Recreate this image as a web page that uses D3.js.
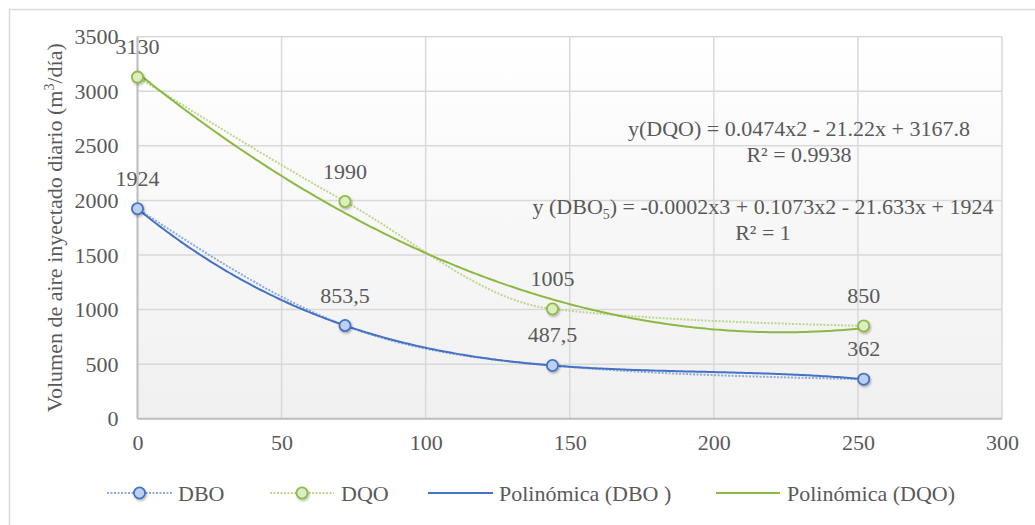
<!DOCTYPE html>
<html><head><meta charset="utf-8">
<script src="https://cdn.jsdelivr.net/npm/d3@7"></script>
<style>
body{margin:0;background:#fff;}
</style></head>
<body><svg id="chart" width="1035" height="525"></svg>
<script>
// ---- data ----
const xValues = [0, 72, 144, 252];
const dboValues = [1924, 853.5, 487.5, 362];
const dqoValues = [3130, 1990, 1005, 850];
const dboLabels = ["1924", "853,5", "487,5", "362"];
const dqoLabels = ["3130", "1990", "1005", "850"];
const xTicks = [0, 50, 100, 150, 200, 250, 300];
const yTicks = [0, 500, 1000, 1500, 2000, 2500, 3000, 3500];
const legendNames = ["DBO", "DQO", "Polinómica (DBO )", "Polinómica (DQO)"];
const eqDQO = "y(DQO) = 0.0474x2 - 21.22x + 3167.8";
const r2DQO = "R² = 0.9938";
const eqDBOparts = ["y (DBO", "5", ") = -0.0002x3 + 0.1073x2 - 21.633x + 1924"];
const r2DBO = "R² = 1";
const yTitle = ["Volumen de aire inyectado diario (m", "3", "/día)"];

// ---- setup ----
const FONT = "Liberation Serif";
const TXT = "#595959";
const svg = d3.select("#chart");
const pLeft = 137.5, pRight = 1002, pTop = 36.7, pBottom = 418.7;
const x = d3.scaleLinear().domain([0, 300]).range([pLeft, pRight]);
const y = d3.scaleLinear().domain([0, 3500]).range([pBottom, pTop]);

const blue = "#4472C4", blueFill = "#BDD0EE", blueDot = "#8EA9DB";
const green = "#8DB843", greenFill = "#DDEDC2", greenDot = "#BFD68F";

// outer chart border
svg.append("rect").attr("x", 9.5).attr("y", 9.5).attr("width", 1040).attr("height", 530)
  .attr("fill", "none").attr("stroke", "#d9d9d9").attr("stroke-width", 1.5);

const defs = svg.append("defs");
const grad = defs.append("linearGradient").attr("id", "bg").attr("x1", 0).attr("y1", 0).attr("x2", 0).attr("y2", 1);
grad.append("stop").attr("offset", "0%").attr("stop-color", "#ffffff");
grad.append("stop").attr("offset", "100%").attr("stop-color", "#f0f0f0");
const sh = defs.append("filter").attr("id", "shadow").attr("x", "-50%").attr("y", "-50%").attr("width", "200%").attr("height", "200%");
sh.append("feDropShadow").attr("dx", 1).attr("dy", 1.5).attr("stdDeviation", 1.2).attr("flood-color", "#000").attr("flood-opacity", 0.3);

svg.append("rect").attr("x", pLeft).attr("y", pTop).attr("width", pRight - pLeft).attr("height", pBottom - pTop).attr("fill", "url(#bg)");

// gridlines
svg.append("g").selectAll("line").data(yTicks).join("line")
  .attr("x1", pLeft).attr("x2", pRight).attr("y1", d => y(d)).attr("y2", d => y(d))
  .attr("stroke", "#d9d9d9").attr("stroke-width", 1.5);
svg.append("g").selectAll("line").data(xTicks).join("line")
  .attr("y1", pTop).attr("y2", pBottom).attr("x1", d => x(d)).attr("x2", d => x(d))
  .attr("stroke", "#d9d9d9").attr("stroke-width", 1.5);
// axis lines
svg.append("line").attr("x1", pLeft).attr("x2", pRight).attr("y1", pBottom).attr("y2", pBottom).attr("stroke", "#bfbfbf").attr("stroke-width", 2);
svg.append("line").attr("x1", pLeft).attr("x2", pLeft).attr("y1", pTop).attr("y2", pBottom).attr("stroke", "#bfbfbf").attr("stroke-width", 2);

// tick labels via axes
const fs = 22;
const xAxis = svg.append("g").attr("transform", `translate(0,${pBottom})`)
  .call(d3.axisBottom(x).tickValues(xTicks).tickFormat(d3.format("d")).tickSize(0).tickPadding(16));
xAxis.select(".domain").remove();
const yAxis = svg.append("g").attr("transform", `translate(${pLeft},0)`)
  .call(d3.axisLeft(y).tickValues(yTicks).tickFormat(d3.format("d")).tickSize(0).tickPadding(19));
yAxis.select(".domain").remove();
svg.selectAll(".tick text").attr("font-size", fs);

// y title
const yt = svg.append("text").attr("transform", `translate(62,${(pTop + pBottom) / 2}) rotate(-90)`)
  .attr("text-anchor", "middle").attr("font-size", fs);
yt.append("tspan").text(yTitle[0]);
yt.append("tspan").text(yTitle[1]).attr("font-size", 14).attr("dy", -8);
yt.append("tspan").text(yTitle[2]).attr("dy", 8);

// ---- least squares polynomial fit ----
function polyfit(xs, ys, deg) {
  const n = deg + 1;
  const A = Array.from({length: n}, () => new Array(n + 1).fill(0));
  for (let r = 0; r < n; r++) {
    for (let c = 0; c < n; c++) A[r][c] = d3.sum(xs, v => Math.pow(v, r + c));
    A[r][n] = d3.sum(xs.map((v, i) => ys[i] * Math.pow(v, r)));
  }
  for (let i = 0; i < n; i++) {
    let p = i;
    for (let k = i + 1; k < n; k++) if (Math.abs(A[k][i]) > Math.abs(A[p][i])) p = k;
    [A[i], A[p]] = [A[p], A[i]];
    for (let k = 0; k < n; k++) {
      if (k === i) continue;
      const f = A[k][i] / A[i][i];
      for (let c = i; c <= n; c++) A[k][c] -= f * A[i][c];
    }
  }
  return A.map((row, i) => row[n] / row[i]);
}
const evalPoly = (co, v) => co.reduce((s, c, i) => s + c * Math.pow(v, i), 0);
const coDBO = polyfit(xValues, dboValues, 3);
const coDQO = polyfit(xValues, dqoValues, 2);
const xs = d3.range(0, xValues[xValues.length - 1] + 0.5, 1);

const lineGen = d3.line().x(d => x(d[0])).y(d => y(d[1]));
const smooth = d3.line().x(d => x(d[0])).y(d => y(d[1])).curve(d3.curveMonotoneX);

// dotted series lines
const dboPts = xValues.map((v, i) => [v, dboValues[i]]);
const dqoPts = xValues.map((v, i) => [v, dqoValues[i]]);
svg.append("path").attr("d", smooth(dqoPts)).attr("fill", "none").attr("stroke", greenDot).attr("stroke-width", 2).attr("stroke-dasharray", "2,1.5");
svg.append("path").attr("d", smooth(dboPts)).attr("fill", "none").attr("stroke", blueDot).attr("stroke-width", 2).attr("stroke-dasharray", "2,1.5");

// trendlines
svg.append("path").attr("d", lineGen(xs.map(v => [v, evalPoly(coDQO, v)]))).attr("fill", "none").attr("stroke", green).attr("stroke-width", 2);
svg.append("path").attr("d", lineGen(xs.map(v => [v, evalPoly(coDBO, v)]))).attr("fill", "none").attr("stroke", blue).attr("stroke-width", 2);

// markers
function markers(pts, stroke, fill) {
  svg.append("g").selectAll("circle").data(pts).join("circle")
    .attr("cx", d => x(d[0])).attr("cy", d => y(d[1])).attr("r", 5.6)
    .attr("fill", fill).attr("stroke", stroke).attr("stroke-width", 1.8).attr("filter", "url(#shadow)");
}
markers(dqoPts, green, greenFill);
markers(dboPts, blue, blueFill);

// data labels
function labels(pts, txt) {
  svg.append("g").selectAll("text").data(pts).join("text")
    .attr("x", d => x(d[0])).attr("y", d => y(d[1]) - 23)
    .attr("text-anchor", "middle").attr("font-size", fs).text((d, i) => txt[i]);
}
labels(dqoPts, dqoLabels);
labels(dboPts, dboLabels);

// equations
svg.append("text").attr("x", 799).attr("y", 136).attr("text-anchor", "middle").attr("font-size", fs).text(eqDQO);
svg.append("text").attr("x", 799).attr("y", 162).attr("text-anchor", "middle").attr("font-size", fs).text(r2DQO);
const e2 = svg.append("text").attr("x", 763).attr("y", 214).attr("text-anchor", "middle").attr("font-size", fs);
e2.append("tspan").text(eqDBOparts[0]);
e2.append("tspan").text(eqDBOparts[1]).attr("font-size", 14).attr("dy", 5);
e2.append("tspan").text(eqDBOparts[2]).attr("dy", -5);
svg.append("text").attr("x", 763).attr("y", 240).attr("text-anchor", "middle").attr("font-size", fs).text(r2DBO);

// legend
const ly = 493;
const legendItems = [
  {x0: 107, x1: 172, tx: 178, color: blueDot, dash: "2,1.5", marker: [blue, blueFill]},
  {x0: 270, x1: 334, tx: 341, color: greenDot, dash: "2,1.5", marker: [green, greenFill]},
  {x0: 428, x1: 493, tx: 499, color: blue, dash: null, marker: null},
  {x0: 716, x1: 780, tx: 787, color: green, dash: null, marker: null}
];
const lg = svg.append("g").selectAll("g").data(legendItems).join("g");
lg.append("line").attr("x1", d => d.x0).attr("x2", d => d.x1).attr("y1", ly).attr("y2", ly)
  .attr("stroke", d => d.color).attr("stroke-width", 2).attr("stroke-dasharray", d => d.dash);
lg.filter(d => d.marker).append("circle").attr("cx", d => (d.x0 + d.x1) / 2).attr("cy", ly).attr("r", 5.6)
  .attr("fill", d => d.marker[1]).attr("stroke", d => d.marker[0]).attr("stroke-width", 1.8).attr("filter", "url(#shadow)");
lg.append("text").attr("x", d => d.tx).attr("y", ly).attr("dy", "0.35em").attr("font-size", fs).text((d, i) => legendNames[i]);

// apply font to all text
svg.selectAll("g").attr("font-family", null);
svg.selectAll("text").style("font-family", FONT).attr("fill", TXT);
</script></body></html>
